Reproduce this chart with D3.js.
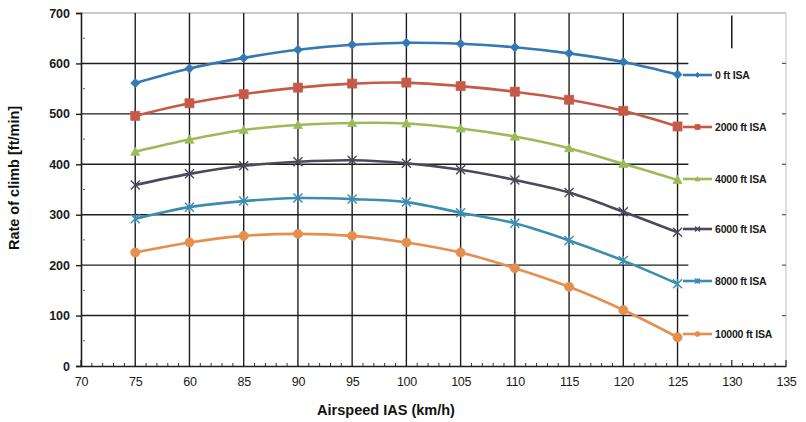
<!DOCTYPE html>
<html>
<head>
<meta charset="utf-8">
<script src="https://cdn.jsdelivr.net/npm/d3@7"></script>
<style>
  html, body { margin: 0; padding: 0; background: #fff; }
  svg { display: block; font-family: "Liberation Sans", Arial, sans-serif; }
</style>
</head>
<body>
<svg id="chart" width="806" height="422"></svg>
<script>
// ---- data ----
const speeds = [75, 80, 85, 90, 95, 100, 105, 110, 115, 120, 125];
const seriesNames = ["0 ft ISA", "2000 ft ISA", "4000 ft ISA", "6000 ft ISA", "8000 ft ISA", "10000 ft ISA"];
const alt0     = [561, 590, 611, 627, 637, 641, 639, 632, 620, 603, 578];
const alt2000  = [496, 521, 539, 552, 560, 562, 555, 544, 528, 506, 475];
const alt4000  = [425, 449, 468, 478, 482, 481, 471, 455, 432, 401, 369];
const alt6000  = [359, 381, 397, 405, 408, 402, 389, 369, 344, 306, 265];
const alt8000  = [292, 315, 327, 333, 331, 325, 304, 283, 249, 209, 163];
const alt10000 = [225, 245, 258, 262, 258, 245, 225, 194, 157, 111, 57];
const xTickValues = [70, 75, 80, 85, 90, 95, 100, 105, 110, 115, 120, 125, 130, 135];
const xTickLabels = ["70", "75", "60", "85", "90", "95", "100", "105", "110", "115", "120", "125", "130", "135"];
const yTickValues = [0, 100, 200, 300, 400, 500, 600, 700];
const colors = ["#3479b3", "#c65a48", "#9cbb58", "#4b4a5c", "#3b8db0", "#e58f4f"];
const markers = ["diamond", "square", "triangle", "x", "star", "circle"];
const xTitle = "Airspeed IAS (km/h)";
const yTitle = "Rate of climb [ft/min]";

const allSeries = [alt0, alt2000, alt4000, alt6000, alt8000, alt10000];

// ---- layout ----
const svg = d3.select("#chart");
const x = d3.scaleLinear().domain([70, 135]).range([81, 786]);
const y = d3.scaleLinear().domain([0, 700]).range([366, 13]);

const gridColor = "#1e1e1e";

// top and right border (light)
svg.append("line").attr("x1", x(70)).attr("x2", x(135)).attr("y1", y(700)).attr("y2", y(700))
  .attr("stroke", "#b8b8b8").attr("stroke-width", 1.5);
svg.append("line").attr("x1", x(135)).attr("x2", x(135)).attr("y1", y(700)).attr("y2", y(0))
  .attr("stroke", "#c8c8c8").attr("stroke-width", 1.2);
// right border ticks
svg.append("g").selectAll("line").data(yTickValues.filter(v => v > 0 && v < 700)).join("line")
  .attr("x1", x(135) - 4).attr("x2", x(135)).attr("y1", d => y(d)).attr("y2", d => y(d))
  .attr("stroke", "#555").attr("stroke-width", 1.2);

// horizontal gridlines (stop at 125)
svg.append("g").selectAll("line").data(yTickValues.filter(v => v > 0 && v < 700)).join("line")
  .attr("x1", x(70)).attr("x2", x(126)).attr("y1", d => y(d)).attr("y2", d => y(d))
  .attr("stroke", gridColor).attr("stroke-width", 1.4);

// vertical gridlines 75..125
svg.append("g").selectAll("line").data(xTickValues.filter(v => v >= 75 && v <= 125)).join("line")
  .attr("x1", d => x(d)).attr("x2", d => x(d)).attr("y1", y(700)).attr("y2", y(0))
  .attr("stroke", gridColor).attr("stroke-width", 1.4);
// partial 130 line at top
svg.append("line").attr("x1", x(130)).attr("x2", x(130)).attr("y1", y(695)).attr("y2", y(630))
  .attr("stroke", gridColor).attr("stroke-width", 1.6);

// x axis
const xAxis = d3.axisBottom(x).tickValues(xTickValues)
  .tickFormat((d, i) => xTickLabels[i]).tickSize(0).tickPadding(11);
const gx = svg.append("g").attr("transform", `translate(0,${y(0)})`).call(xAxis);
gx.select(".domain").attr("stroke", gridColor).attr("stroke-width", 1.6);
gx.selectAll("text").attr("font-size", 12.5).attr("fill", "#1a1a1a").attr("letter-spacing", -0.3);
// minor x ticks
const minorX = d3.range(71, 135).filter(v => v % 5 !== 0);
svg.append("g").selectAll("line").data(minorX).join("line")
  .attr("x1", d => x(d)).attr("x2", d => x(d)).attr("y1", y(0)).attr("y2", y(0) - 3)
  .attr("stroke", "#333").attr("stroke-width", 1);
svg.append("g").selectAll("line").data(xTickValues.filter(v => v < 75 || v > 125)).join("line")
  .attr("x1", d => x(d)).attr("x2", d => x(d)).attr("y1", y(0)).attr("y2", y(0) - 6)
  .attr("stroke", "#333").attr("stroke-width", 1.3);

// y axis
const yAxis = d3.axisLeft(y).tickValues(yTickValues).tickSize(5).tickPadding(6);
const gy = svg.append("g").attr("transform", `translate(${x(70)},0)`).call(yAxis);
gy.select(".domain").attr("stroke", gridColor).attr("stroke-width", 1.6);
gy.selectAll(".tick line").attr("stroke", gridColor).attr("stroke-width", 1.4);
gy.selectAll("text").attr("font-size", 12.5).attr("font-weight", "bold").attr("fill", "#1a1a1a");
// minor y ticks
svg.append("g").selectAll("line").data([50, 150, 250, 350, 450, 550, 650]).join("line")
  .attr("x1", x(70) + 2).attr("x2", x(70) + 4).attr("y1", d => y(d)).attr("y2", d => y(d))
  .attr("stroke", "#666").attr("stroke-width", 1);

// axis titles
svg.append("text").attr("x", 386).attr("y", 415).attr("text-anchor", "middle")
  .attr("font-size", 14.5).attr("font-weight", "bold").attr("fill", "#111").text(xTitle);
svg.append("text").attr("transform", "translate(19,178) rotate(-90)").attr("text-anchor", "middle")
  .attr("font-size", 14.5).attr("font-weight", "bold").attr("fill", "#111").text(yTitle);

// markers
function markerPath(type, s) {
  const h = s / 2;
  switch (type) {
    case "diamond": return `M0,${-h}L${h},0L0,${h}L${-h},0Z`;
    case "square": return `M${-h},${-h}H${h}V${h}H${-h}Z`;
    case "triangle": return `M0,${-h}L${h},${h * 0.8}L${-h},${h * 0.8}Z`;
    case "x": return `M${-h},${-h}L${h},${h}M${h},${-h}L${-h},${h}`;
    case "star": return `M${-h},${-h}L${h},${h}M${h},${-h}L${-h},${h}M0,${-h}V${h}`;
    case "circle": return d3.symbol(d3.symbolCircle, s * s * 0.8)();
  }
}
function drawMarker(g, type, color, cx, cy, s) {
  const filled = !(type === "x" || type === "star");
  g.append("path").attr("d", markerPath(type, s))
    .attr("transform", `translate(${cx},${cy})`)
    .attr("fill", filled ? color : "none")
    .attr("stroke", color).attr("stroke-width", filled ? 0.8 : 1.4);
}

// series
const line = d3.line().x((d, i) => x(speeds[i])).y(d => y(d)).curve(d3.curveCatmullRom.alpha(0.5));
allSeries.forEach((vals, si) => {
  const g = svg.append("g");
  g.append("path").datum(vals).attr("d", line)
    .attr("fill", "none").attr("stroke", colors[si]).attr("stroke-width", 2.6);
  vals.forEach((v, i) => drawMarker(g, markers[si], colors[si], x(speeds[i]), y(v), 9));
});

// legend
const legendY = [75, 127, 179, 229, 281, 334];
seriesNames.forEach((name, i) => {
  const g = svg.append("g");
  g.append("line").attr("x1", 683).attr("x2", 712).attr("y1", legendY[i]).attr("y2", legendY[i])
    .attr("stroke", colors[i]).attr("stroke-width", 2.6);
  drawMarker(g, markers[i], colors[i], 697.5, legendY[i], 5);
  g.append("text").attr("x", 715).attr("y", legendY[i] + 4)
    .attr("font-size", 10.5).attr("font-weight", "bold").attr("fill", "#1a1a1a")
    .attr("letter-spacing", -0.2).text(name);
});
</script>
</body>
</html>
